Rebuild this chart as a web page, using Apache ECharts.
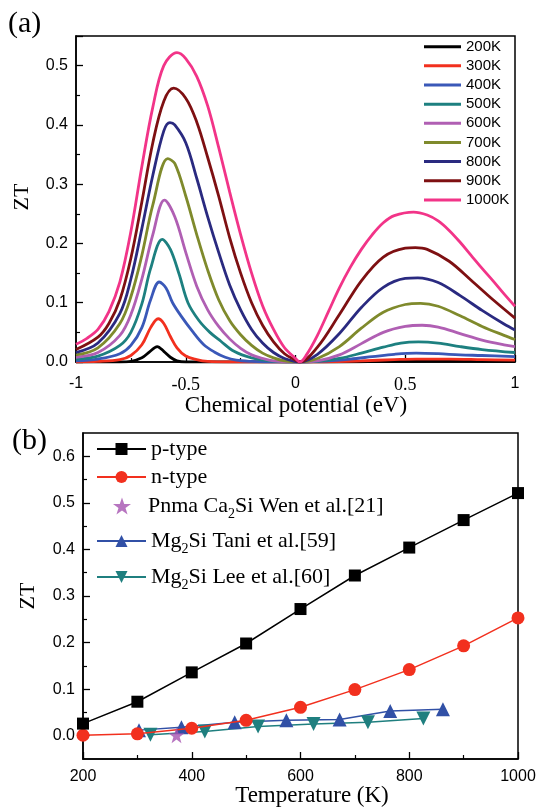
<!DOCTYPE html>
<html><head><meta charset="utf-8">
<script src="https://cdn.jsdelivr.net/npm/echarts@6/dist/echarts.min.js"></script>
<style>html,body{margin:0;padding:0;background:#fff}#c{width:541px;height:808px}</style>
</head><body><div id="c"></div>
<script>
const SANS = '"Liberation Sans", Arial, sans-serif';
const SERIF = '"Liberation Serif", "Times New Roman", serif';

// ---------- Panel (a): ZT vs chemical potential (eV) ----------
const tempLabels = ['200K','300K','400K','500K','600K','700K','800K','900K','1000K'];
const zt200 = [[-1,0],[-0.8,0],[-0.75,0.001],[-0.7,0.007],[-0.665,0.017],[-0.63,0.026],[-0.6,0.018],[-0.57,0.008],[-0.54,0.002],[-0.5,0],[0.2,0],[0.4,0.001],[0.6,0.002],[0.8,0.002],[1,0.001]];
const zt300 = [[-1,0],[-0.9,0.001],[-0.8,0.004],[-0.75,0.011],[-0.7,0.029],[-0.66,0.058],[-0.626,0.073],[-0.6,0.065],[-0.57,0.043],[-0.54,0.024],[-0.5,0.01],[-0.45,0.004],[-0.4,0.001],[-0.3,0],[0.1,0],[0.3,0.002],[0.45,0.004],[0.55,0.005],[0.7,0.005],[0.85,0.004],[1,0.003]];
const zt400 = [[-1,0.002],[-0.9,0.005],[-0.8,0.014],[-0.75,0.028],[-0.7,0.058],[-0.66,0.105],[-0.621,0.135],[-0.59,0.125],[-0.56,0.1],[-0.52,0.077],[-0.47,0.052],[-0.42,0.03],[-0.37,0.017],[-0.32,0.008],[-0.27,0.003],[-0.2,0.001],[-0.1,0],[0.05,0],[0.15,0.002],[0.25,0.005],[0.35,0.009],[0.45,0.013],[0.55,0.015],[0.65,0.014],[0.75,0.012],[0.85,0.011],[1,0.009]];
const zt500 = [[-1,0.005],[-0.9,0.01],[-0.8,0.028],[-0.75,0.05],[-0.7,0.098],[-0.66,0.158],[-0.607,0.207],[-0.57,0.19],[-0.53,0.148],[-0.49,0.1],[-0.44,0.07],[-0.39,0.05],[-0.34,0.035],[-0.28,0.018],[-0.2,0.007],[-0.1,0.001],[0,0],[0.1,0.001],[0.2,0.006],[0.3,0.015],[0.4,0.025],[0.48,0.032],[0.56,0.034],[0.65,0.032],[0.75,0.026],[0.85,0.021],[1,0.016]];
const zt600 = [[-1,0.008],[-0.9,0.016],[-0.8,0.045],[-0.75,0.08],[-0.7,0.14],[-0.65,0.215],[-0.597,0.273],[-0.55,0.245],[-0.5,0.185],[-0.45,0.128],[-0.4,0.088],[-0.35,0.06],[-0.3,0.039],[-0.25,0.023],[-0.2,0.012],[-0.15,0.006],[-0.1,0.002],[0,0],[0.1,0.002],[0.2,0.012],[0.3,0.031],[0.4,0.05],[0.5,0.06],[0.577,0.062],[0.65,0.059],[0.75,0.048],[0.85,0.037],[0.95,0.029],[1,0.026]];
const zt700 = [[-1,0.012],[-0.9,0.024],[-0.8,0.065],[-0.75,0.11],[-0.7,0.18],[-0.65,0.265],[-0.582,0.343],[-0.55,0.335],[-0.5,0.28],[-0.45,0.215],[-0.4,0.155],[-0.35,0.105],[-0.3,0.07],[-0.25,0.046],[-0.2,0.028],[-0.15,0.015],[-0.1,0.007],[-0.05,0.002],[0.02,0],[0.1,0.006],[0.2,0.026],[0.3,0.057],[0.4,0.084],[0.5,0.097],[0.57,0.099],[0.65,0.094],[0.75,0.078],[0.85,0.06],[0.95,0.045],[1,0.038]];
const zt800 = [[-1,0.016],[-0.9,0.032],[-0.8,0.082],[-0.75,0.14],[-0.7,0.225],[-0.65,0.315],[-0.6,0.39],[-0.572,0.404],[-0.55,0.4],[-0.5,0.37],[-0.45,0.31],[-0.4,0.245],[-0.35,0.185],[-0.3,0.13],[-0.25,0.088],[-0.2,0.055],[-0.15,0.032],[-0.1,0.016],[-0.05,0.006],[0.02,0],[0.1,0.013],[0.2,0.048],[0.3,0.092],[0.4,0.126],[0.5,0.141],[0.557,0.142],[0.65,0.134],[0.75,0.112],[0.85,0.087],[0.95,0.064],[1,0.054]];
const zt900 = [[-1,0.021],[-0.9,0.042],[-0.85,0.065],[-0.8,0.105],[-0.75,0.175],[-0.7,0.27],[-0.65,0.37],[-0.6,0.44],[-0.555,0.462],[-0.5,0.445],[-0.45,0.405],[-0.4,0.345],[-0.35,0.28],[-0.3,0.21],[-0.25,0.15],[-0.2,0.1],[-0.15,0.062],[-0.1,0.034],[-0.05,0.014],[0,0.003],[0.02,0],[0.1,0.025],[0.2,0.08],[0.3,0.137],[0.4,0.177],[0.5,0.192],[0.546,0.193],[0.6,0.19],[0.7,0.17],[0.8,0.138],[0.9,0.105],[1,0.074]];
const zt1000 = [[-1,0.03],[-0.95,0.04],[-0.9,0.055],[-0.85,0.085],[-0.8,0.135],[-0.75,0.22],[-0.7,0.33],[-0.65,0.43],[-0.6,0.5],[-0.54,0.522],[-0.5,0.512],[-0.45,0.482],[-0.4,0.432],[-0.35,0.362],[-0.3,0.287],[-0.25,0.215],[-0.2,0.15],[-0.15,0.095],[-0.1,0.055],[-0.05,0.024],[0,0.006],[0.02,0],[0.05,0.012],[0.1,0.045],[0.15,0.085],[0.2,0.125],[0.25,0.16],[0.3,0.19],[0.35,0.215],[0.4,0.235],[0.45,0.247],[0.538,0.253],[0.6,0.248],[0.65,0.238],[0.7,0.222],[0.75,0.202],[0.8,0.18],[0.85,0.158],[0.9,0.137],[0.95,0.115],[1,0.094]];

// ---------- Panel (b): ZT vs temperature (K) ----------
const temps = [200, 300, 400, 500, 600, 700, 800, 900, 1000];
const pType = [0.026, 0.073, 0.136, 0.198, 0.272, 0.344, 0.404, 0.463, 0.521];
const nType = [0.001, 0.004, 0.016, 0.033, 0.061, 0.099, 0.142, 0.193, 0.253];
const wenT = [372];
const wenZT = [0.001];
const taniT = [303, 381, 479, 574, 672, 765, 862];
const taniZT = [0.012, 0.018, 0.029, 0.033, 0.035, 0.053, 0.057];
const leeT = [324, 424, 522, 624, 724, 826];
const leeZT = [0.002, 0.009, 0.02, 0.025, 0.029, 0.037];
const ztTicksB = [0, 0.1, 0.2, 0.3, 0.4, 0.5, 0.6];
const ztMinorB = [0.05, 0.15, 0.25, 0.35, 0.45, 0.55];
const legendB = ['p-type', 'n-type', 'Pnma Ca2Si Wen et al.[21]', 'Mg2Si Tani et al.[59]', 'Mg2Si Lee et al.[60]'];

// ---------- styles ----------
const curveColors = ['#000000','#f2301e','#3a58b8','#1d8080','#b05fb3','#7f8a2c','#2a2a80','#7e1012','#f23488'];
const curves = [zt200, zt300, zt400, zt500, zt600, zt700, zt800, zt900, zt1000];
const zip = (xs, ys) => xs.map((x, i) => [x, ys[i]]);

const axisBase = {
  axisLine: { show: true, onZero: false, lineStyle: { color: '#000', width: 1.5 } },
  axisTick: { show: true, inside: true, length: 7, lineStyle: { color: '#000', width: 1.3 } },
  minorTick: { show: true, splitNumber: 2, length: 4, lineStyle: { color: '#000', width: 1.2 } },
  splitLine: { show: false },
  minorSplitLine: { show: false }
};

const seriesA = curves.map((c, i) => ({
  name: tempLabels[i], type: 'line', xAxisIndex: 0, yAxisIndex: 0,
  data: c, symbol: 'none', smooth: 0.35, clip: true,
  lineStyle: { width: 2.8, color: curveColors[i] }, itemStyle: { color: curveColors[i] },
  z: 2 + i
}));

const star = 'path://M50,2 L61.8,36.2 L97.6,36.2 L68.6,57.4 L79.4,92 L50,70.8 L20.6,92 L31.4,57.4 L2.4,36.2 L38.2,36.2 Z';
const seriesB = [
  { name: legendB[0], type: 'line', xAxisIndex: 1, yAxisIndex: 1, data: zip(temps, pType),
    symbol: 'rect', symbolSize: 12, color: '#000', lineStyle: { width: 1.5, color: '#000' }, z: 5 },
  { name: legendB[1], type: 'line', xAxisIndex: 1, yAxisIndex: 1, data: zip(temps, nType),
    symbol: 'circle', symbolSize: 13, color: '#f2301e', lineStyle: { width: 1.5, color: '#f2301e' }, z: 4 },
  { name: legendB[2], type: 'scatter', xAxisIndex: 1, yAxisIndex: 1, data: zip(wenT, wenZT),
    symbol: star, symbolSize: 16, color: '#a552b0', z: 6 },
  { name: legendB[3], type: 'line', xAxisIndex: 1, yAxisIndex: 1, data: zip(taniT, taniZT),
    symbol: 'triangle', symbolSize: 14, color: '#3150a6', lineStyle: { width: 1.5, color: '#3150a6' }, z: 3 },
  { name: legendB[4], type: 'line', xAxisIndex: 1, yAxisIndex: 1, data: zip(leeT, leeZT),
    symbol: 'triangle', symbolRotate: 180, symbolSize: 14, color: '#1f7f7f', lineStyle: { width: 1.5, color: '#1f7f7f' }, z: 3 }
];

const legendRowsB = [449, 477, 505, 540, 576];
const legendFmt = n => n.replace(/(Ca|Mg)2Si/, '$1{sub|2}Si');
const legendsB = legendB.map((n, i) => ({
  data: [n], orient: 'vertical',
  left: i === 2 ? 113 : 96,
  top: legendRowsB[i] - (i >= 2 ? 10 : 11), padding: 0,
  itemWidth: i === 2 ? 42 : 49, itemHeight: i === 2 ? 17 : 15, selectedMode: false,
  formatter: legendFmt,
  textStyle: { fontFamily: SERIF, fontSize: 22, color: '#000', lineHeight: 22,
    rich: { sub: { fontFamily: SERIF, fontSize: 14, padding: [16, 0, 0, 0] } } }
}));

const option = {
  backgroundColor: '#fff',
  animation: false,
  grid: [
    { left: 76, top: 36, width: 439, height: 326, show: true, borderColor: '#000', borderWidth: 1.5, backgroundColor: 'transparent' },
    { left: 83, top: 433, width: 435, height: 326, show: true, borderColor: '#000', borderWidth: 1.5, backgroundColor: 'transparent' }
  ],
  legend: [
    { data: tempLabels, orient: 'vertical', left: 424, top: 39.2, padding: 0, itemWidth: 37, itemHeight: 3,
      itemGap: 4.15, selectedMode: false, icon: 'rect',
      textStyle: { fontFamily: SANS, fontSize: 15, color: '#000', lineHeight: 15 } }
  ].concat(legendsB),
  xAxis: [
    Object.assign({}, axisBase, { type: 'value', gridIndex: 0, min: -1, max: 1, interval: 0.5,
      axisLabel: { margin: 14, color: '#000',
        formatter: v => (Math.abs(v) === 0.5 ? '{t|' + v + '}' : '{s|' + v + '}'),
        rich: { s: { fontFamily: SANS, fontSize: 16, color: '#000' }, t: { fontFamily: SERIF, fontSize: 18, color: '#000' } } } }),
    Object.assign({}, axisBase, { type: 'value', gridIndex: 1, min: 200, max: 1000, interval: 200,
      axisLabel: { margin: 10, color: '#000', fontFamily: SANS, fontSize: 16, formatter: v => String(v) } })
  ],
  yAxis: [
    Object.assign({}, axisBase, { type: 'value', gridIndex: 0, min: 0, max: 0.55, interval: 0.1,
      axisLabel: { margin: 8, color: '#000', fontFamily: SANS, fontSize: 16,
        formatter: v => (v > 0.51 ? '' : v.toFixed(1)) } }),
    Object.assign({}, axisBase, { type: 'value', gridIndex: 1, min: -0.05, max: 0.65,
      minorTick: { show: false },
      axisTick: { show: true, inside: true, length: 7, customValues: ztTicksB, lineStyle: { color: '#000', width: 1.3 } },
      axisLabel: { margin: 8, color: '#000', fontFamily: SANS, fontSize: 16, customValues: ztTicksB,
        formatter: v => v.toFixed(1) } }),
    { type: 'value', gridIndex: 1, min: -0.05, max: 0.65, position: 'left',
      axisLine: { show: false, onZero: false }, axisLabel: { show: false }, splitLine: { show: false },
      axisTick: { show: true, inside: true, length: 4, customValues: ztMinorB, lineStyle: { color: '#000', width: 1.2 } } }
  ],
  graphic: [
    { type: 'text', x: 8, y: 24, style: { text: '(a)', font: '30px ' + SERIF, fill: '#000', verticalAlign: 'middle' } },
    { type: 'text', x: 12, y: 441, style: { text: '(b)', font: '30px ' + SERIF, fill: '#000', verticalAlign: 'middle' } },
    { type: 'text', x: 22, y: 197, rotation: Math.PI / 2, style: { text: 'ZT', font: '22px ' + SERIF, fill: '#000', align: 'center', verticalAlign: 'middle' } },
    { type: 'text', x: 28, y: 596, rotation: Math.PI / 2, style: { text: 'ZT', font: '22px ' + SERIF, fill: '#000', align: 'center', verticalAlign: 'middle' } },
    { type: 'text', x: 296, y: 406, style: { text: 'Chemical potential (eV)', font: '23px ' + SERIF, fill: '#000', align: 'center', verticalAlign: 'middle' } },
    { type: 'text', x: 312, y: 796, style: { text: 'Temperature (K)', font: '23px ' + SERIF, fill: '#000', align: 'center', verticalAlign: 'middle' } }
  ],
  series: seriesA.concat(seriesB)
};

const chart = echarts.init(document.getElementById('c'), null, { renderer: 'canvas' });
chart.setOption(option);
</script>
</body></html>
